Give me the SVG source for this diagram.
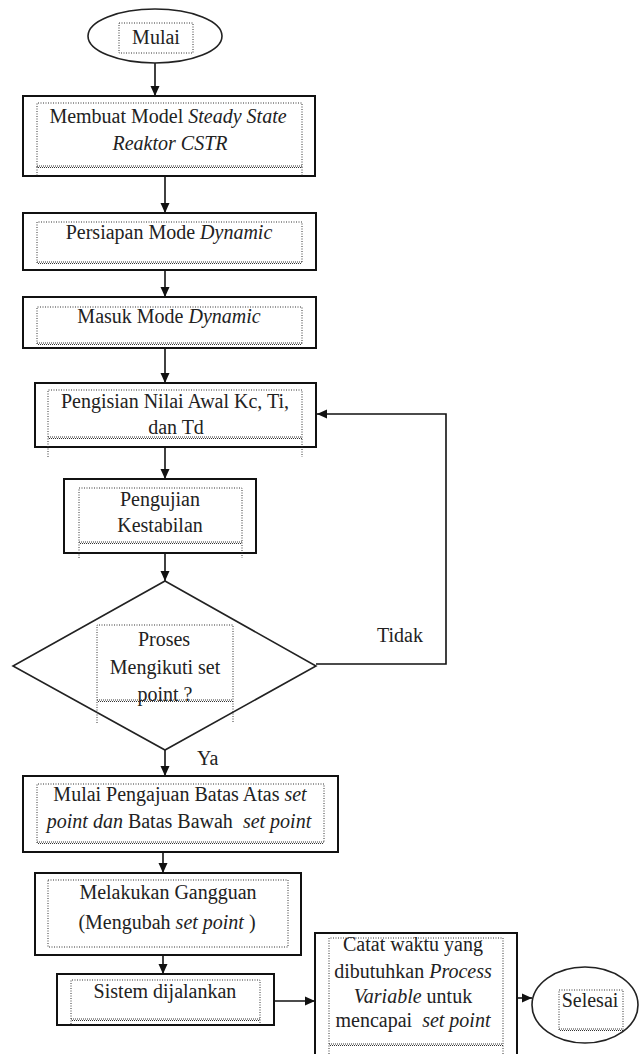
<svg xmlns="http://www.w3.org/2000/svg" width="640" height="1054" viewBox="0 0 640 1054">
<style>
.box{fill:#fff;stroke:#111;stroke-width:2}
.term{fill:#fff;stroke:#222;stroke-width:1.6}
.dot{fill:none;stroke:#333;stroke-width:1;stroke-dasharray:1 1.5}
.wav{fill:none;stroke:#333;stroke-width:1;stroke-dasharray:1 1}
.conn{fill:none;stroke:#111;stroke-width:1.6}
.t{font-family:'Liberation Serif','DejaVu Serif',serif;font-size:20px;fill:#222;text-anchor:middle;white-space:pre}
.i{font-style:italic}
.lbl{text-anchor:start}
</style>
<defs>
<marker id="ah" markerUnits="userSpaceOnUse" markerWidth="10" markerHeight="10" refX="10" refY="5" orient="auto">
<path d="M0,0.5 L10,5 L0,9.5 z" fill="#111"/>
</marker>
</defs>
<rect width="640" height="1054" fill="#fff"/>

<g id="connectors">
<line class="conn" x1="155" y1="63" x2="155" y2="96" marker-end="url(#ah)"/>
<line class="conn" x1="165" y1="177" x2="165" y2="213" marker-end="url(#ah)"/>
<line class="conn" x1="165" y1="271" x2="165" y2="297" marker-end="url(#ah)"/>
<line class="conn" x1="165" y1="349" x2="165" y2="383" marker-end="url(#ah)"/>
<line class="conn" x1="165" y1="448" x2="165" y2="479" marker-end="url(#ah)"/>
<line class="conn" x1="165" y1="554" x2="165" y2="581" marker-end="url(#ah)"/>
<line class="conn" x1="165" y1="750" x2="165" y2="776" marker-end="url(#ah)"/>
<line class="conn" x1="163" y1="853" x2="163" y2="873" marker-end="url(#ah)"/>
<line class="conn" x1="163" y1="956" x2="163" y2="974" marker-end="url(#ah)"/>
<line class="conn" x1="274" y1="1001" x2="315" y2="1001" marker-end="url(#ah)"/>
<line class="conn" x1="517" y1="998" x2="532" y2="998" marker-end="url(#ah)"/>
<polyline class="conn" points="316,664 446,664 446,414 317,414" marker-end="url(#ah)"/>
<text class="t lbl" x="197" y="765">Ya</text>
<text class="t lbl" x="377" y="642">Tidak</text>
</g>

<g id="mulai">
<ellipse class="term" cx="155" cy="36" rx="67" ry="27"/>
<rect class="dot" x="119" y="23" width="74" height="30"/>
<text class="t" x="156" y="44">Mulai</text>
</g>

<g id="model">
<rect class="box" x="23" y="96" width="292" height="80"/>
<path class="dot" d="M37,167 V103 H302 V167"/>
<path class="wav" d="M37,166 H302 M38,167.5 H302"/>
<path class="dot" d="M37,167 V176 M302,167 V176"/>
<text class="t" x="168" y="123">Membuat Model <tspan class="i">Steady State</tspan></text>
<text class="t i" x="170" y="150">Reaktor CSTR</text>
</g>

<g id="persiapan">
<rect class="box" x="23" y="213" width="293" height="57"/>
<path class="dot" d="M37,263 V222 H302 V263"/>
<path class="wav" d="M37,262 H302 M38,263.5 H302"/>
<text class="t" x="169" y="239">Persiapan Mode <tspan class="i">Dynamic</tspan></text>
</g>

<g id="masuk">
<rect class="box" x="23" y="297" width="293" height="51"/>
<path class="dot" d="M37,344 V307 H302 V344"/>
<path class="wav" d="M37,343 H302 M38,344.5 H302"/>
<text class="t" x="169" y="323">Masuk Mode <tspan class="i">Dynamic</tspan></text>
</g>

<g id="pengisian">
<rect class="box" x="35" y="383" width="281" height="64"/>
<path class="dot" d="M48,457 V390 H302 V457"/>
<path class="wav" d="M48,437 H302 M49,438.5 H302"/>
<text class="t" x="175" y="408">Pengisian Nilai Awal Kc, Ti,</text>
<text class="t" x="176" y="434">dan Td</text>
</g>

<g id="pengujian">
<rect class="box" x="64" y="479" width="192" height="74"/>
<path class="dot" d="M79,558 V488 H242 V558"/>
<path class="wav" d="M79,542 H242 M80,543.5 H242"/>
<text class="t" x="160" y="506">Pengujian</text>
<text class="t" x="160" y="532">Kestabilan</text>
</g>

<g id="keputusan">
<polygon points="165,581 316,666 165,750 13,666" fill="#fff" stroke="#222" stroke-width="1.6"/>
<path class="dot" d="M97,723 V625 H233 V723"/>
<path class="wav" d="M97,700 H233 M98,701.5 H233"/>
<text class="t" x="164" y="646">Proses</text>
<text class="t" x="165" y="674">Mengikuti set</text>
<text class="t" x="165" y="701">point ?</text>
</g>

<g id="pengajuan">
<rect class="box" x="23" y="776" width="315" height="76"/>
<path class="dot" d="M37,843 V784 H324 V843"/>
<path class="wav" d="M37,842 H324 M38,843.5 H324"/>
<text class="t" x="180" y="801">Mulai Pengajuan Batas Atas <tspan class="i">set</tspan></text>
<text class="t" x="179" y="828"><tspan class="i">point dan</tspan> Batas Bawah  <tspan class="i">set point</tspan></text>
</g>

<g id="gangguan">
<rect class="box" x="35" y="873" width="266" height="82"/>
<rect class="dot" x="48" y="880" width="240" height="67"/>
<text class="t" x="168" y="899">Melakukan Gangguan</text>
<text class="t" x="167" y="929">(Mengubah <tspan class="i">set point</tspan> )</text>
</g>

<g id="sistem">
<rect class="box" x="57" y="974" width="217" height="51"/>
<path class="dot" d="M71,1024 V980 H260 V1024"/>
<path class="wav" d="M71,1019 H260 M72,1020.5 H260"/>
<text class="t" x="165" y="998">Sistem dijalankan</text>
</g>

<g id="catat">
<rect class="box" x="315" y="933" width="202" height="130"/>
<path class="dot" d="M329,1054 V938 H503 V1054"/>
<path class="wav" d="M329,1044 H503 M330,1045.5 H503"/>
<text class="t" x="413" y="951">Catat waktu yang</text>
<text class="t" x="413" y="978">dibutuhkan <tspan class="i">Process</tspan></text>
<text class="t" x="413" y="1003"><tspan class="i">Variable</tspan> untuk</text>
<text class="t" x="413" y="1027">mencapai  <tspan class="i">set point</tspan></text>
</g>

<g id="selesai">
<ellipse class="term" cx="585" cy="1005" rx="53" ry="38"/>
<path class="dot" d="M559,1030 V990 H623 V1030"/>
<path class="wav" d="M559,1029 H623 M560,1030.5 H623"/>
<text class="t" x="590" y="1007">Selesai</text>
</g>
</svg>
